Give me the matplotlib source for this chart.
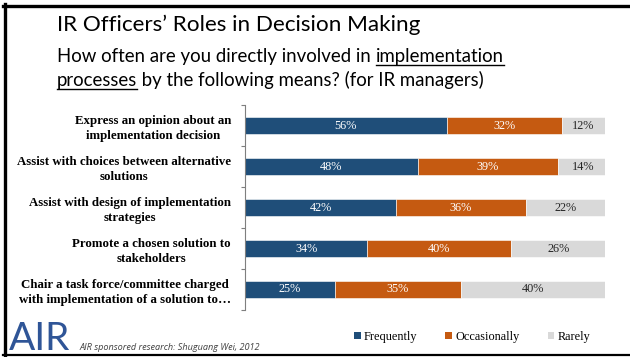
import matplotlib
matplotlib.use("Agg")
import matplotlib.pyplot as plt
from matplotlib.lines import Line2D
from matplotlib.patches import Patch

# survey answers, percent of IR managers
categories = [
    "Express an opinion about an\nimplementation decision",
    "Assist with choices between alternative\nsolutions",
    "Assist with design of implementation\nstrategies",
    "Promote a chosen solution to\nstakeholders",
    "Chair a task force/committee charged\nwith implementation of a solution to\u2026",
]
frequently = [56, 48, 42, 34, 25]
occasionally = [32, 39, 36, 40, 35]
rarely = [12, 14, 22, 26, 40]

series_names = ["Frequently", "Occasionally", "Rarely"]
colors = ["#1F4E79", "#C55A11", "#D9D9D9"]
text_colors = ["white", "white", "#262626"]

SANS = "Lato"
SERIF = "Liberation Serif"

fig = plt.figure(figsize=(6.3, 3.57), dpi=100)
W, H = 630, 357

def px(x, y):
    return x / W, 1 - y / H

# slide border (left, top, bottom)
fig.add_artist(Line2D([4.5 / W, 4.5 / W], [1 - 4 / H, 0], color="black", lw=2.4))
fig.add_artist(Line2D([3 / W, 1], [1 - 5.5 / H, 1 - 5.5 / H], color="black", lw=2.4))
fig.add_artist(Line2D([3 / W, 1], [1 - 355 / H, 1 - 355 / H], color="black", lw=1.6))

ax = fig.add_axes([245 / W, 1 - 310 / H, 360 / W, 205 / H])
ypos = list(range(len(categories)))
stacks = [frequently, occasionally, rarely]
left = [0] * len(categories)
for vals, name, col, tcol in zip(stacks, series_names, colors, text_colors):
    ax.barh(ypos, vals, left=left, height=0.4, color=col, label=name,
            edgecolor="white", linewidth=0.4)
    for i, v in enumerate(vals):
        ax.text(left[i] + v / 2, i, f"{v}%", ha="center", va="center",
                color=tcol, fontsize=8.8, family=SERIF)
    left = [a + b for a, b in zip(left, vals)]

ax.set_xlim(0, 100)
ax.set_ylim(len(categories) - 0.5, -0.5)
ax.set_yticks(ypos)
ax.set_yticklabels(categories, fontsize=9.3, family=SERIF, fontweight="bold",
                   multialignment="center", linespacing=1.3)
ax.set_yticks([i + 0.5 for i in range(-1, len(categories))], minor=True)
ax.tick_params(axis="y", which="major", length=0, pad=10)
ax.tick_params(axis="y", which="minor", length=3, color="#7F7F7F", width=0.8)
ax.set_xticks([])
for s in ["top", "right", "bottom"]:
    ax.spines[s].set_visible(False)
ax.spines["left"].set_color("#7F7F7F")
ax.spines["left"].set_linewidth(0.8)

handles = [Patch(facecolor=c, edgecolor="none") for c in colors]
fig.legend(handles, series_names, loc="center left",
           bbox_to_anchor=(343 / W, 1 - 337 / H), ncol=3, frameon=False,
           handlelength=0.55, handleheight=0.55, handletextpad=0.25,
           columnspacing=2.3, prop={"family": SERIF, "size": 8.8})

# titles
fig.text(*px(57, 31), "IR Officers\u2019 Roles in Decision Making", fontsize=16.2,
         family=SANS, va="baseline", ha="left")

renderer = fig.canvas.get_renderer()

def text_run(x0, y0, parts, size):
    x = x0
    for s, underline in parts:
        t = fig.text(*px(x, y0), s, fontsize=size, family=SANS, va="baseline", ha="left")
        w = t.get_window_extent(renderer).width
        if underline:
            fig.add_artist(Line2D([x / W, (x + w) / W], [1 - (y0 + 3) / H] * 2,
                                  color="black", lw=1.0))
        x += w

text_run(57, 62, [("How often are you directly involved in ", False),
                  ("implementation", True)], 13.4)
text_run(57, 86, [("processes", True),
                  (" by the following means? (for IR managers)", False)], 13.4)

fig.text(*px(80, 350), "AIR sponsored research: Shuguang Wei, 2012", fontsize=6.6,
         family="Open Sans", style="italic", color="#404040", va="baseline")

# AIR logo lettering
fig.text(*px(9, 350), "AIR", fontsize=28, family=SANS,
         color="#2F5597", va="baseline", ha="left")

fig.savefig("out.png", dpi=100)
